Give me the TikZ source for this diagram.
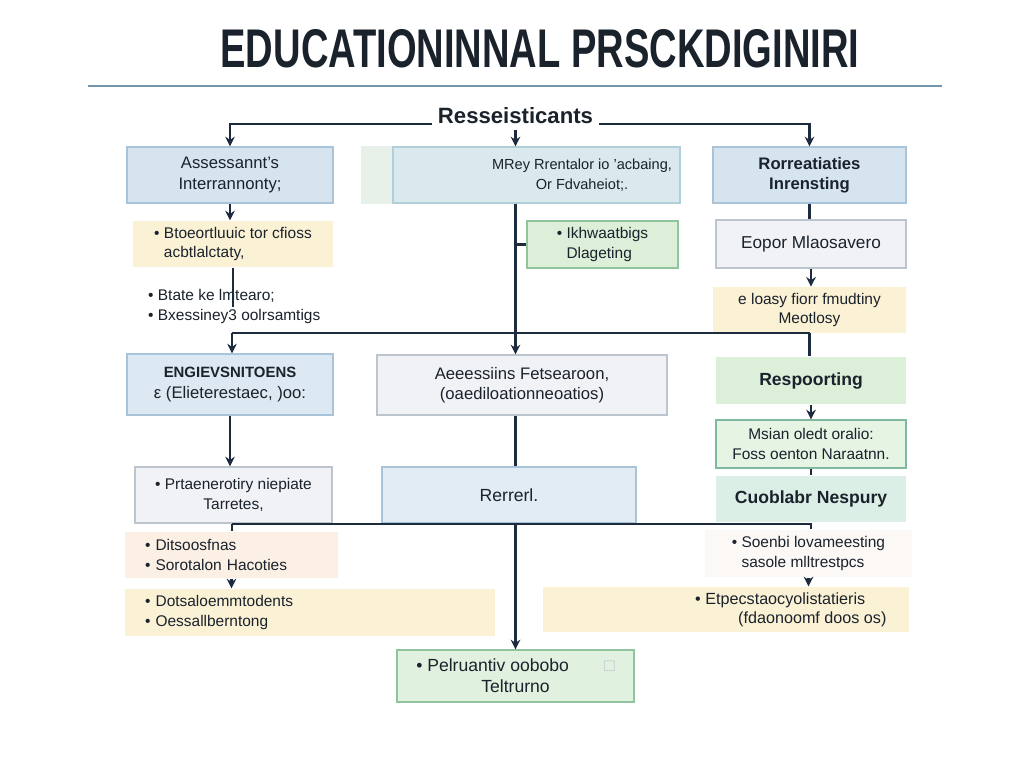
\documentclass[tikz,border=0pt]{standalone}
\usepackage{fontspec}
\setmainfont{Liberation Sans}
\usepackage{graphicx}
\usetikzlibrary{shapes,arrows,arrows.meta,positioning,calc}

\definecolor{ink}{HTML}{1A222C}
\definecolor{navy}{HTML}{1C2B3D}
\definecolor{rulec}{HTML}{7397AA}
\definecolor{blueF}{HTML}{D5E4EF}
\definecolor{blueD}{HTML}{A9C4D8}
\definecolor{cyanF}{HTML}{DAE9EE}
\definecolor{cyanD}{HTML}{B1CFD9}
\definecolor{stripF}{HTML}{E7F1EA}
\definecolor{greyF}{HTML}{F1F2F5}
\definecolor{greyD}{HTML}{BCC5CD}
\definecolor{greenF}{HTML}{DCEFD9}
\definecolor{greenD}{HTML}{8FC49D}
\definecolor{mintF}{HTML}{DCEFE6}
\definecolor{tealD}{HTML}{80B8A2}
\definecolor{yellowF}{HTML}{FBF2D5}
\definecolor{peachF}{HTML}{FCF0E4}
\definecolor{paleF}{HTML}{FBF8F6}

\tikzstyle{box} = [rectangle, minimum height=1.12cm, text centered, align=center, text=ink, line width=0.7pt, font=\fontsize{9.5}{11.5}\selectfont]
\tikzstyle{bullets} = [font=\fontsize{8.8}{11}\selectfont]
\tikzstyle{bluebox} = [box, fill=blueF, draw=blueD]
\tikzstyle{greybox} = [box, fill=greyF, draw=greyD]
\tikzstyle{greenbox} = [box, fill=greenF, draw=greenD]
\tikzstyle{yellowbox} = [box, fill=yellowF, draw=none]
\tikzstyle{txt} = [text=ink, align=left, font=\fontsize{8.8}{11}\selectfont]
\tikzstyle{arrow} = [line width=1.3pt, draw=navy, -{Stealth[length=5.5pt,width=5.5pt]}]
\tikzstyle{wire} = [line width=1.3pt, draw=navy]

\begin{document}
\begin{tikzpicture}[x=0.02cm, y=-0.02cm]
\useasboundingbox [fill=white] (0,0) rectangle (1024,768);

\node (title) [text=ink, font=\bfseries\fontsize{31}{31}\selectfont] at (540,49) {\scalebox{0.7}[1]{EDUCATIONINNAL PRSCKDIGINIRI}};
\draw [rulec, line width=1.2pt] (88,86) -- (942,86);
\node (res) [text=ink, font=\bfseries\fontsize{12.6}{14}\selectfont] at (515.5,116) {Resseisticants};

\node (a1) [bluebox, minimum width=4.12cm] at (230,175) {Assessannt's\\Interrannonty;};
\node (a2) [box, fill=cyanF, draw=cyanD, minimum width=5.74cm] at (536.5,175) {};
\fill [stripF] ([xshift=-0.62cm]a2.north west) rectangle (a2.south west);
\node (a2txt) [txt, align=center, font=\fontsize{8.3}{11}\selectfont] at (582,175) {MRey Rrentalor io 'acbaing,\\Or Fdvaheiot;.};
\node (a3) [bluebox, font=\bfseries\fontsize{9.5}{11.5}\selectfont, minimum width=3.86cm] at (809.5,175) {Rorreatiaties\\Inrensting};

\node (b1) [yellowbox, bullets, minimum width=4cm, minimum height=0.92cm, align=left] at (233,244) {• Btoeortluuic tor cfioss\\ \phantom{• }acbtlalctaty,};
\node (b2) [greenbox, bullets, minimum width=3.02cm, minimum height=0.94cm, align=left] at (602.5,244.5) {• Ikhwaatbigs\\ \phantom{• }Dlageting};
\node (b3) [greybox, font=\fontsize{9.8}{12}\selectfont, minimum width=3.8cm, minimum height=0.96cm] at (811,244) {Eopor Mlaosavero};
\node (t1) [txt, anchor=west] at (142,306.5) {• Btate ke lmtearo;\\• Bxessiney3 oolrsamtigs};
\node (d3) [yellowbox, bullets, minimum width=3.86cm, minimum height=0.88cm] at (809.5,310) {e loasy fiorr fmudtiny\\Meotlosy};

\node (c1) [bluebox, fill=blueF!80!white, minimum width=4.12cm, minimum height=1.22cm] at (230,384.5) {{\bfseries\fontsize{8.5}{10}\selectfont ENGIEVSNITOENS}\\ε\ (Elieterestaec, )oo:};
\node (c2) [greybox, minimum width=5.8cm, minimum height=1.2cm] at (522,385) {Aeeessiins Fetsearoon,\\(oaediloationneoatios)};
\node (c3) [box, fill=greenF, draw=none, font=\bfseries\fontsize{10}{12}\selectfont, minimum width=3.8cm, minimum height=0.94cm] at (811,380.5) {Respoorting};

\node (e3) [box, bullets, fill=greenF!70!white, draw=tealD, minimum width=3.8cm, minimum height=0.96cm] at (811,444) {Msian oledt oralio:\\Foss oenton Naraatnn.};
\node (c4) [greybox, bullets, minimum width=3.94cm, minimum height=1.12cm] at (233.5,495) {• Prtaenerotiry niepiate\\Tarretes,};
\node (rr) [bluebox, fill=blueF!70!white, font=\fontsize{10}{12}\selectfont, minimum width=5.08cm] at (509,495) {Rerrerl.};
\node (f3) [box, fill=mintF, draw=none, font=\bfseries\fontsize{10}{12}\selectfont, minimum width=3.8cm, minimum height=0.92cm] at (811,499) {Cuoblabr Nespury};

\node (d4) [box, bullets, fill=peachF, draw=none, minimum width=4.26cm, minimum height=0.92cm, text width=3.46cm, align=left] at (231.5,555) {• Ditsoosfnas\\• Sorotalon Hacoties};
\node (g3) [box, bullets, fill=paleF, draw=none, minimum width=4.14cm, minimum height=0.94cm, align=left] at (808.5,553.5) {• Soenbi lovameesting\\ \phantom{• }sasole mlltrestpcs};
\node (e4) [yellowbox, bullets, minimum width=7.4cm, minimum height=0.94cm, text width=6.6cm, align=left] at (310,612.5) {• Dotsaloemmtodents\\• Oessallberntong};
\node (h3) [yellowbox, minimum width=7.32cm, minimum height=0.9cm] at (726,609.5) {};
\node (h3txt) [txt, anchor=west, font=\fontsize{9.2}{11}\selectfont] at (689,609.5) {• Etpecstaocyolistatieris\\ \hspace*{0.86cm}(fdaonoomf doos os)};
\node (g2) [greenbox, fill=greenF!85!white, font=\fontsize{10}{12}\selectfont, minimum width=4.74cm, minimum height=1.04cm] at (515.5,676) {• Pelruantiv oobobo\qquad{\color{greyD}□}\\Teltrurno};

\coordinate (j1) at (232,333);
\coordinate (j2) at (810,333);
\coordinate (k1) at (232,524);
\coordinate (k2) at (810,524);

%arrows
\draw [arrow] (res.base west) -| (a1.north);
\draw [arrow] (res.south) -- (res |- a2.north);
\draw [arrow] (res.base east) -| (a3.north);

\draw [arrow] (a1) -- (a1 |- b1.north);
\draw [wire] (b1) -- (b1 |- t1);
\draw [wire] (j1) -- (j2);
\draw [arrow] (j1) -- (j1 |- c1.north);
\draw [arrow] (c1) -- (c1 |- c4.north);
\draw [wire] (k1) -- (k2);
\draw [wire] (k1) -- (k1 |- d4.north);
\draw [arrow] (d4) -- (d4 |- e4.north);

\draw [arrow] (res |- a2.south) -- (res |- c2.north);
\draw [wire] (res |- b2) -- (b2.west);
\draw [wire] (res |- c2.south) -- (res |- rr.north);
\draw [arrow] (res |- rr.south) -- (res |- g2.north);

\draw [wire] (a3) -- (a3 |- b3.north);
\draw [arrow] (b3) -- (b3 |- d3.north);
\draw [wire] (d3) -- (d3 |- c3.north);
\draw [arrow] (c3) -- (c3 |- e3.north);
\draw [wire] (e3) -- (e3 |- f3.north);
\draw [wire] (f3) -- (f3 |- g3.north);
\draw [arrow] (g3) -- (g3 |- h3.north);
\end{tikzpicture}
\end{document}
